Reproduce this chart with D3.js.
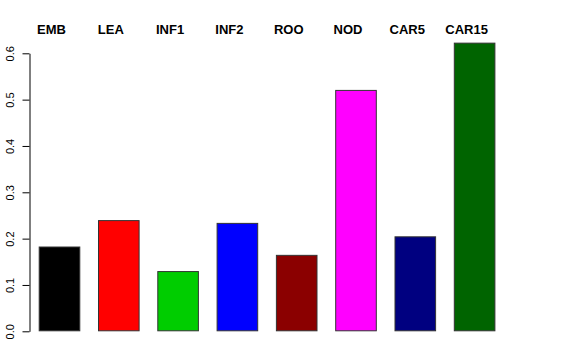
<!DOCTYPE html>
<html>
<head>
<meta charset="utf-8">
<script src="https://cdn.jsdelivr.net/npm/d3@7"></script>
<style>
  body { margin: 0; background: #fff; }
  text { font-family: "Liberation Sans", Arial, sans-serif; }
</style>
</head>
<body>
<div id="chart"></div>
<script>
var tissues = ["EMB", "LEA", "INF1", "INF2", "ROO", "NOD", "CAR5", "CAR15"];
var values = [0.183, 0.240, 0.130, 0.234, 0.165, 0.521, 0.205, 0.623];
var barColors = ["#000000", "#FF0000", "#00CD00", "#0000FF", "#8B0000", "#FF00FF", "#000080", "#006400"];
var yTicks = [0, 0.1, 0.2, 0.3, 0.4, 0.5, 0.6];

var svgWidth = 576;
var svgHeight = 360;

var svg = d3.select("#chart")
  .append("svg")
  .attr("width", svgWidth)
  .attr("height", svgHeight);

var xScale = d3.scaleBand()
  .domain(tissues)
  .range([38.7, 495.4])
  .paddingInner(0.2985)
  .paddingOuter(0);

var yScale = d3.scaleLinear()
  .domain([0, 0.6])
  .range([331.3, 53.3]);

// bars
svg.selectAll("rect.bar")
  .data(values)
  .enter()
  .append("rect")
  .attr("class", "bar")
  .attr("x", (d, i) => xScale(tissues[i]) + 0.5)
  .attr("y", d => yScale(d) + 0.5)
  .attr("width", xScale.bandwidth() - 1)
  .attr("height", d => yScale(0) - yScale(d) - 1)
  .attr("fill", (d, i) => barColors[i])
  .attr("stroke", "#333")
  .attr("stroke-width", 1);

// y axis, R style
var leftAxis = d3.axisLeft(yScale)
  .tickValues(yTicks)
  .tickFormat(d3.format(".1f"))
  .tickSizeInner(7)
  .tickSizeOuter(0)
  .tickPadding(4);

var yAxis = svg.append("g")
  .attr("transform", "translate(29.5,0)")
  .call(leftAxis);

yAxis.select(".domain").attr("stroke", "#000");
yAxis.selectAll(".tick line").attr("stroke", "#000");
yAxis.selectAll(".tick text")
  .attr("font-size", 11)
  .attr("font-family", "Liberation Sans, Arial, sans-serif")
  .attr("fill", "#000")
  .attr("text-anchor", "middle")
  .attr("x", 0)
  .attr("dy", 0)
  .attr("transform", "translate(-15.5,0) rotate(-90)");

// labels along the top
svg.selectAll("text.tissue")
  .data(tissues)
  .enter()
  .append("text")
  .attr("class", "tissue")
  .attr("x", d => xScale(d) + xScale.bandwidth() / 2 - 8)
  .attr("y", 33.5)
  .attr("text-anchor", "middle")
  .attr("font-size", 13)
  .attr("font-weight", "bold")
  .text(d => d);
</script>
</body>
</html>
